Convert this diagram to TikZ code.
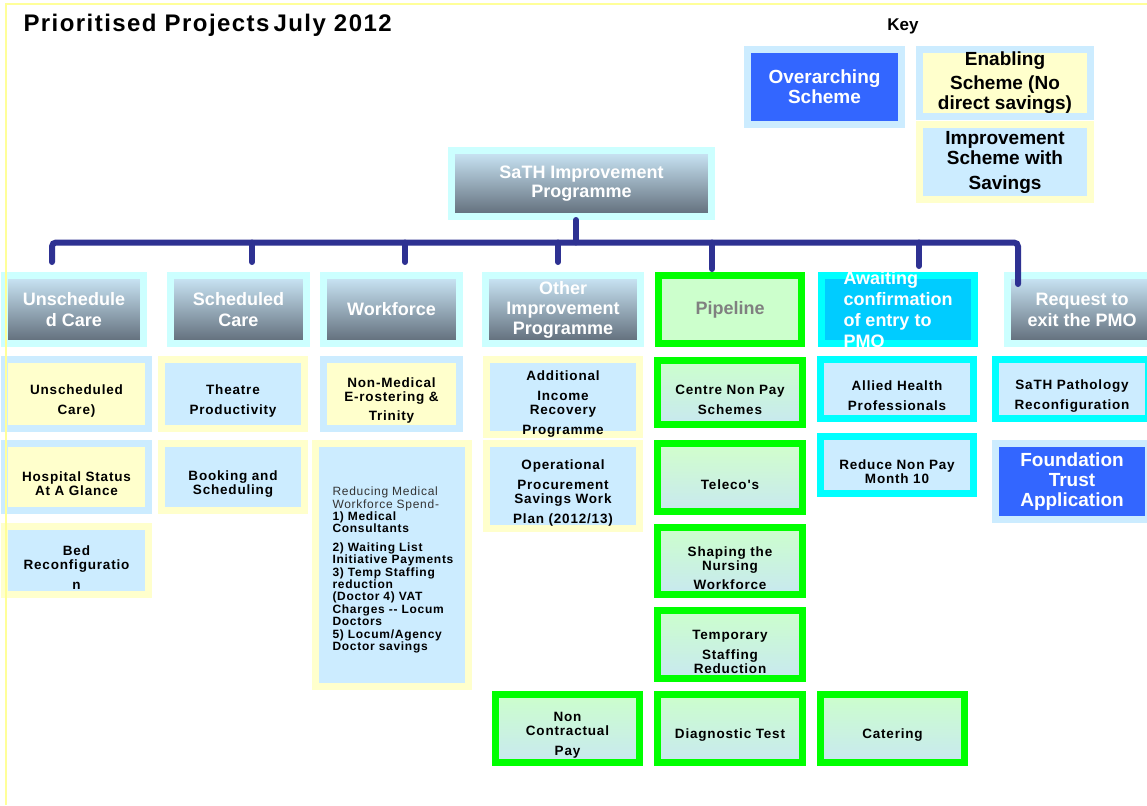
\documentclass[tikz,border=0pt]{standalone}
\usepackage{fontspec}
\setmainfont{Liberation Sans}
\newfontfamily\spaced[LetterSpace=6]{Liberation Sans}
\usetikzlibrary{calc}

\definecolor{paleyel}{HTML}{FFFFCC}
\definecolor{paleblue}{HTML}{CCECFF}
\definecolor{hdrhalo}{HTML}{CCFFFF}
\definecolor{hdrtop}{HTML}{CCE8F8}
\definecolor{hdrbot}{HTML}{5F6B78}
\definecolor{schemeblue}{HTML}{3366FF}
\definecolor{pipegreen}{HTML}{00FF00}
\definecolor{pipefill}{HTML}{CCFFCC}
\definecolor{pipebot}{HTML}{C8E8F0}
\definecolor{awaitcyan}{HTML}{00FFFF}
\definecolor{awaitfill}{HTML}{00CCFF}
\definecolor{barblue}{HTML}{2E3192}
\definecolor{edgeyel}{HTML}{FFFF99}
\definecolor{txtgrey}{HTML}{333333}

\tikzset{
  dims/.style 2 args={minimum width=#1pt, minimum height=#2pt},
  box/.style={draw, line width=7pt, inner sep=0pt},
  hdr/.style={box, draw=hdrhalo, top color=hdrtop, bottom color=hdrbot},
  yelbox/.style={box, draw=paleblue, fill=paleyel},
  bluebox/.style={box, draw=paleyel, fill=paleblue},
  topbox/.style={box, draw=paleblue, fill=schemeblue},
  pipebox/.style={box, draw=pipegreen, top color=pipefill, bottom color=pipebot},
  waitbox/.style={box, draw=awaitcyan, fill=paleblue},
  hdrtxt/.style={text=white, font=\bfseries\fontsize{18}{21}\selectfont, align=center},
  keytxt/.style={font=\bfseries\fontsize{19}{20}\selectfont, align=center},
  bodytxt/.style={font=\spaced\bfseries\fontsize{13.5}{14}\selectfont, align=center, yshift=-7pt},
  redtxt/.style={font=\spaced\bfseries\fontsize{12}{12.4}\selectfont, align=left, text width=135pt},
  conn/.style={draw=barblue, line width=6pt, line cap=round, rounded corners=4pt},
}

\begin{document}
\begin{tikzpicture}[x=1pt, y=-1pt]
\useasboundingbox (0,0) rectangle (1147,805);
\fill[white] (0,0) rectangle (1147,805);

% title and key
\node[anchor=west, font=\spaced\bfseries\fontsize{24}{26}\selectfont] (title) at (20,25) {Prioritised Projects\hspace{4pt}July 2012};
\node[font=\bfseries\fontsize{17}{19}\selectfont] (key) at (903,26) {Key};
\node[topbox, dims={154}{75}, label={[keytxt, text=white]center:{Overarching\\Scheme}}] (keyover) at (824.5,87) {};
\node[yelbox, dims={171}{67}, label={[keytxt]center:{Enabling\\[4pt]Scheme (No\\direct savings)}}] (keyenab) at (1005,83) {};
\node[bluebox, dims={171}{75}, label={[keytxt]center:{Improvement\\Scheme with\\[5pt]Savings}}] (keyimpr) at (1005,162) {};

% programme and headers
\node[hdr, dims={260}{66}, label={[hdrtxt, font=\bfseries\fontsize{18}{19}\selectfont]center:{SaTH Improvement\\Programme}}] (sath) at (581.5,183.5) {};
\node[hdr, dims={139}{68}, label={[hdrtxt]center:{Unschedule\\d Care}}] (h1) at (74,309.5) {};
\node[hdr, dims={136}{68}, label={[hdrtxt]center:{Scheduled\\Care}}] (h2) at (238.5,309.5) {};
\node[hdr, dims={136}{68}, label={[hdrtxt]center:{Workforce}}] (h3) at (391.5,309.5) {};
\node[hdr, dims={155}{68}, label={[hdrtxt, font=\bfseries\fontsize{18}{20}\selectfont]center:{Other\\Improvement\\Programme}}] (h4) at (563,309.5) {};
\node[box, draw=pipegreen, fill=pipefill, dims={143}{68}, label={[hdrtxt, text=gray]center:{Pipeline}}] (h5) at (730,309.5) {};
\node[box, draw=awaitcyan, fill=awaitfill, dims={153}{68}, label={[hdrtxt, align=left]center:{Awaiting\\confirmation\\of entry to\\PMO}}] (h6) at (898,309.5) {};
\node[hdr, dims={149}{68}, label={[hdrtxt]center:{Request to\\exit the PMO}}] (h7) at (1082,309.5) {};

% unscheduled care
\node[yelbox, dims={144}{69}, label={[bodytxt]center:{Unscheduled\\[6pt]Care)}}] (unsc) at (76.5,394) {};
\node[yelbox, dims={144}{67}, label={[bodytxt]center:{Hospital Status\\At A Glance}}] (hosp) at (76.5,477) {};
\node[bluebox, dims={144}{68}, label={[bodytxt]center:{Bed\\Reconfiguratio\\[6pt]n}}] (bed) at (76.5,560.5) {};

% scheduled care
\node[bluebox, dims={143}{69}, label={[bodytxt]center:{Theatre\\[6pt]Productivity}}] (theatre) at (233,394) {};
\node[bluebox, dims={143}{67}, label={[bodytxt]center:{Booking and\\Scheduling}}] (booking) at (233,477) {};

% workforce
\node[yelbox, dims={136}{69}, label={[bodytxt]center:{Non-Medical\\E-rostering \&\\[5pt]Trinity}}] (nonmed) at (391.5,394) {};
\node[bluebox, dims={153}{243}, label={[redtxt, xshift=8pt, yshift=-5pt]center:{\textcolor{txtgrey}{\mdseries Reducing Medical}\\\textcolor{txtgrey}{\mdseries Workforce Spend-}\\1) Medical\\Consultants\\[6pt]2) Waiting List\\Initiative Payments\\3) Temp Staffing\\reduction\\(Doctor 4) VAT\\Charges -- Locum\\Doctors\\5) Locum/Agency\\Doctor savings}}] (medspend) at (392,565) {};

% other improvement programme
\node[bluebox, dims={153}{75}, label={[bodytxt]center:{Additional\\[6pt]Income\\Recovery\\[6pt]Programme}}] (addinc) at (563,397) {};
\node[bluebox, dims={153}{85}, label={[bodytxt]center:{Operational\\[6pt]Procurement\\Savings Work\\[6pt]Plan (2012/13)}}] (procure) at (563,486) {};
\node[pipebox, dims={144}{68}, label={[bodytxt]center:{Non\\Contractual\\[6pt]Pay}}] (noncon) at (567.5,728.5) {};

% pipeline
\node[pipebox, dims={145}{64}, label={[bodytxt]center:{Centre Non Pay\\[6pt]Schemes}}] (centre) at (730,392.5) {};
\node[pipebox, top color=paleyel!40!green!30, dims={145}{68}, label={[bodytxt]center:{Teleco's}}] (teleco) at (730,477.5) {};
\node[pipebox, dims={145}{67}, label={[bodytxt]center:{Shaping the\\Nursing\\[5pt]Workforce}}] (nursing) at (730,561) {};
\node[pipebox, dims={145}{68}, label={[bodytxt]center:{Temporary\\[6pt]Staffing\\Reduction}}] (tempstaff) at (730,644.5) {};
\node[pipebox, dims={145}{68}, label={[bodytxt]center:{Diagnostic Test}}] (diagnostic) at (730,728.5) {};

% awaiting confirmation
\node[waitbox, dims={153}{59}, label={[bodytxt]center:{Allied Health\\[6pt]Professionals}}] (allied) at (897,389) {};
\node[waitbox, dims={153}{57}, label={[bodytxt]center:{Reduce Non Pay\\Month 10}}] (nonpay) at (897,465) {};
\node[pipebox, dims={144}{68}, label={[bodytxt]center:{Catering}}] (catering) at (892.5,728.5) {};

% request to exit
\node[waitbox, dims={153}{59}, label={[bodytxt]center:{SaTH Pathology\\[6pt]Reconfiguration}}] (pathology) at (1072,389) {};
\node[topbox, dims={153}{76}, label={[keytxt, text=white, font=\bfseries\fontsize{19}{20}\selectfont]center:{Foundation\\Trust\\Application}}] (found) at (1072,481.5) {};

% connectors
\coordinate (d0) at (576,242.5);
\coordinate (d1) at (52,242.5);
\coordinate (d2) at (252,242.5);
\coordinate (d3) at (405,242.5);
\coordinate (d4) at (558,242.5);
\coordinate (d5) at (712,242.5);
\coordinate (d6) at (919,242.5);
\coordinate (d7) at (1018,242.5);
\draw[conn] (d0 |- sath.south) -- (d0);
\draw[conn] ($(d1 |- h1.north)+(0,-10)$) |- (d7) -- ($(d7 |- h7.north)+(0,12)$);
\foreach \d/\h/\e in {d2/h2/-10, d3/h3/-10, d4/h4/-10, d5/h5/-3, d6/h6/-6}
  \draw[conn] (\d) -- ($(\d |- \h.north)+(0,\e)$);

% page edge
\draw[edgeyel, line width=2pt] (6,805) -- (6,4) -- (1147,4);
\end{tikzpicture}
\end{document}
